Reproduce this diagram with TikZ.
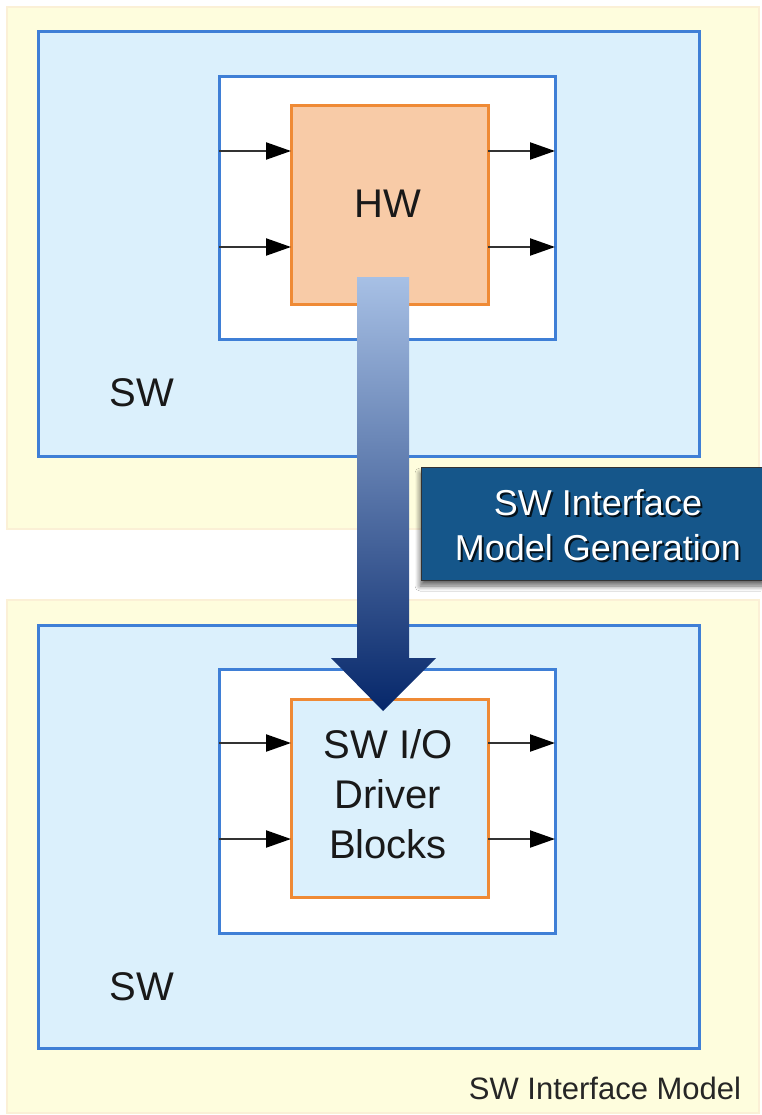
\documentclass[tikz,border=0pt]{standalone}
\usepackage{fontspec}
\setmainfont{Liberation Sans}
\usetikzlibrary{arrows.meta,shadows.blur}
\definecolor{panel}{HTML}{FEFDDD}
\definecolor{panelb}{HTML}{FBF0D6}
\definecolor{swfill}{HTML}{DBF0FC}
\definecolor{swline}{HTML}{3F7FD6}
\definecolor{hwfill}{HTML}{F8CBA7}
\definecolor{hwline}{HTML}{EF8A35}
\definecolor{genbox}{HTML}{15568A}
\definecolor{arrtop}{HTML}{A7C0E5}
\definecolor{arrbot}{HTML}{06276A}
\definecolor{sig}{HTML}{333333}
\begin{document}
\begin{tikzpicture}[x=1pt,y=-1pt,
  box/.style={rectangle, inner sep=0pt, outer sep=0pt},
  panelbox/.style={box, fill=panel, draw=panelb, line width=1.5pt},
  swbox/.style={box, fill=swfill, draw=swline, line width=3pt},
  wbox/.style={box, fill=white, draw=swline, line width=3pt},
  hwbox/.style={box, fill=hwfill, draw=hwline, line width=3pt},
  drvbox/.style={box, fill=swfill, draw=hwline, line width=3pt},
  big/.style={font=\fontsize{40}{50}\selectfont, text=black!90},
  sigarrow/.style={draw=sig, line width=2.2pt, -{Triangle[length=25pt,width=17pt,color=black]}},
]
\useasboundingbox (0,0) rectangle (761,1115);
\fill[white] (0,0) rectangle (761,1115);

% top panel
\node[panelbox, minimum width=752pt, minimum height=522pt] (ptop) at (383,268) {};
\node[swbox, minimum width=661pt, minimum height=424pt] (swtop) at (368.5,244) {};
\node[wbox, minimum width=336pt, minimum height=262pt] (wtop) at (387,208) {};
\node[hwbox, minimum width=197pt, minimum height=198pt] (hw) at (389.5,205) {};
\node[big] (hwlabel) at (388,204) {HW};
\node[big] (swlabtop) at (142,393) {SW};

\coordinate (t1) at (0,151);
\coordinate (t2) at (0,247);
\draw[sigarrow] (wtop.west |- t1) -- (hw.west |- t1);
\draw[sigarrow] (wtop.west |- t2) -- (hw.west |- t2);
\draw[sigarrow] (hw.east |- t1) -- (wtop.east |- t1);
\draw[sigarrow] (hw.east |- t2) -- (wtop.east |- t2);

% bottom panel
\node[panelbox, minimum width=752pt, minimum height=513pt] (pbot) at (383,856.5) {};
\node[swbox, minimum width=661pt, minimum height=423pt] (swbot) at (368.5,836.5) {};
\node[wbox, minimum width=336pt, minimum height=264pt] (wbot) at (387,801) {};
\node[drvbox, minimum width=197pt, minimum height=198pt] (drv) at (389.5,798) {};
\node[big, align=center] (drvlabel) at (388,794) {SW I/O\\Driver\\Blocks};
\node[big] (swlabbot) at (142,987) {SW};
\node[font=\fontsize{31}{36}\selectfont, text=black!85] (footer) at (605,1088) {SW Interface Model};

\coordinate (b1) at (0,743);
\coordinate (b2) at (0,839);
\draw[sigarrow] (wbot.west |- b1) -- (drv.west |- b1);
\draw[sigarrow] (wbot.west |- b2) -- (drv.west |- b2);
\draw[sigarrow] (drv.east |- b1) -- (wbot.east |- b1);
\draw[sigarrow] (drv.east |- b2) -- (wbot.east |- b2);

% big gradient arrow
\shade[top color=arrtop, bottom color=arrbot]
  (357,277) -- (409,277) -- (409,658) -- (436,658) -- (383,711) -- (331,658) -- (357,658) -- cycle;

% generation box
\node[box, fill=genbox, draw=black!80, line width=1pt, minimum width=345pt, minimum height=113pt,
  blur shadow={shadow xshift=-1pt, shadow yshift=-6pt, shadow blur steps=6, shadow blur radius=5pt, shadow opacity=60}]
  (gen) at (593.5,523.5) {};
\node[align=center, font=\fontsize{36}{45}\selectfont, text=black, opacity=0.8] at (600,527) {SW Interface\\Model Generation};
\node[align=center, font=\fontsize{36}{45}\selectfont, text=white] (genlabel) at (598,525) {SW Interface\\Model Generation};
\end{tikzpicture}
\end{document}
